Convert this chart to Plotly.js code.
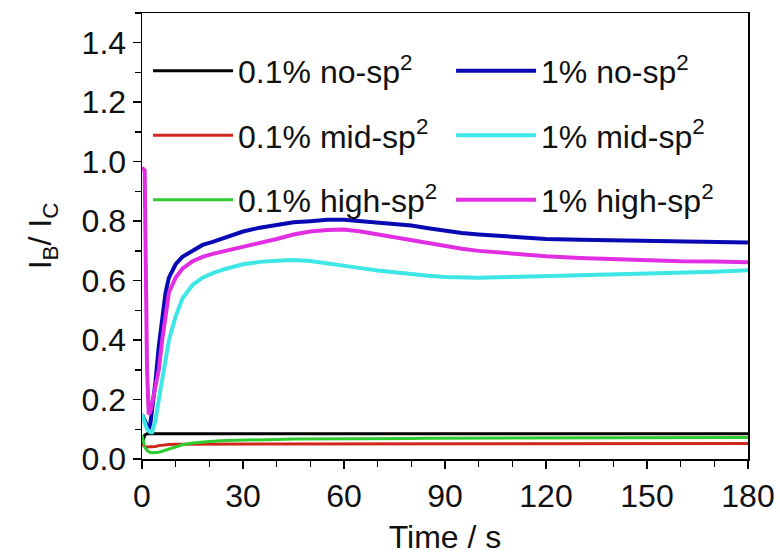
<!DOCTYPE html>
<html>
<head>
<meta charset="utf-8">
<script src="https://cdn.plot.ly/plotly-3.0.1.min.js"></script>
<style>html,body{margin:0;padding:0;background:#fff;}#chart{width:780px;height:560px;}</style>
</head>
<body>
<div id="chart"></div>
<script>
// Time axis (s), shared by all series
var time = [0, 0.8, 1.5, 2, 2.5, 3, 4, 5, 6, 7, 8, 10, 12, 15, 18, 21, 25, 30, 35, 40,
            45, 50, 55, 60, 65, 70, 75, 80, 85, 90, 95, 100, 110, 120, 130, 140, 150, 160, 170, 180];

// I_B / I_C values
var noSp2_01 = [0.05, 0.08, 0.085, 0.085, 0.085, 0.085, 0.085, 0.085, 0.085, 0.085, 0.085, 0.085, 0.085, 0.085, 0.085, 0.085, 0.085, 0.085, 0.085, 0.085,
                0.085, 0.085, 0.085, 0.085, 0.085, 0.085, 0.085, 0.085, 0.085, 0.085, 0.085, 0.085, 0.085, 0.085, 0.085, 0.085, 0.085, 0.085, 0.085, 0.085];
var midSp2_01 = [0.05, 0.042, 0.04, 0.04, 0.04, 0.04, 0.042, 0.045, 0.047, 0.048, 0.049, 0.05, 0.05, 0.051, 0.052, 0.052, 0.052, 0.052, 0.052, 0.052,
                 0.052, 0.052, 0.052, 0.052, 0.052, 0.052, 0.052, 0.052, 0.052, 0.052, 0.052, 0.052, 0.052, 0.052, 0.052, 0.052, 0.052, 0.052, 0.052, 0.052];
var highSp2_01 = [0.08, 0.04, 0.028, 0.024, 0.022, 0.021, 0.021, 0.023, 0.026, 0.03, 0.034, 0.042, 0.048, 0.054, 0.058, 0.06, 0.062, 0.064, 0.065, 0.066,
                  0.067, 0.067, 0.068, 0.068, 0.068, 0.069, 0.069, 0.069, 0.07, 0.07, 0.07, 0.07, 0.07, 0.07, 0.071, 0.071, 0.071, 0.072, 0.072, 0.072];
var noSp2_1 = [0.15, 0.13, 0.11, 0.10, 0.12, 0.16, 0.26, 0.38, 0.48, 0.56, 0.61, 0.655, 0.68, 0.70, 0.72, 0.73, 0.745, 0.765, 0.778, 0.788,
               0.796, 0.80, 0.805, 0.805, 0.80, 0.796, 0.79, 0.785, 0.776, 0.767, 0.76, 0.755, 0.746, 0.74, 0.737, 0.735, 0.732, 0.73, 0.729, 0.728];
var midSp2_1 = [0.15, 0.12, 0.10, 0.095, 0.09, 0.09, 0.13, 0.20, 0.27, 0.34, 0.40, 0.48, 0.54, 0.585, 0.61, 0.625, 0.64, 0.655, 0.663, 0.667,
                0.669, 0.666, 0.657, 0.648, 0.642, 0.634, 0.627, 0.621, 0.616, 0.612, 0.61, 0.61, 0.612, 0.615, 0.618, 0.62, 0.622, 0.626, 0.63, 0.635];
var highSp2_1 = [0.98, 0.97, 0.30, 0.15, 0.16, 0.19, 0.24, 0.30, 0.40, 0.49, 0.56, 0.61, 0.64, 0.665, 0.68, 0.69, 0.70, 0.712, 0.725, 0.74,
                 0.755, 0.765, 0.77, 0.772, 0.765, 0.755, 0.745, 0.735, 0.725, 0.715, 0.707, 0.70, 0.69, 0.682, 0.676, 0.672, 0.668, 0.665, 0.664, 0.662];

var seriesNames = ['0.1% no-sp<sup>2</sup>', '0.1% mid-sp<sup>2</sup>', '0.1% high-sp<sup>2</sup>',
                   '1% no-sp<sup>2</sup>', '1% mid-sp<sup>2</sup>', '1% high-sp<sup>2</sup>'];
var seriesData = [noSp2_01, midSp2_01, highSp2_01, noSp2_1, midSp2_1, highSp2_1];
var seriesColors = ['#000000', '#d0261c', '#2ecc2e', '#0a0ab4', '#3ee6e6', '#e22ee2'];
var seriesWidths = [3, 3, 3, 4, 4, 4];
var legendIds = ['legend', 'legend', 'legend', 'legend2', 'legend2', 'legend2'];

var traces = seriesData.map(function (vals, i) {
  return {
    x: time, y: vals, type: 'scatter', mode: 'lines', name: seriesNames[i],
    line: {color: seriesColors[i], width: seriesWidths[i]},
    legend: legendIds[i], legendgroup: 'g' + i
  };
});

var FONT = 'Liberation Sans, Arial, sans-serif';
var FS = 32;
var axisCommon = {
  showline: true, linecolor: '#000', linewidth: 1.5, mirror: true,
  ticks: 'outside', ticklen: 8, tickwidth: 1.5, tickcolor: '#000',
  showgrid: false, zeroline: false,
  tickfont: {family: FONT, size: FS, color: '#111'}
};

var layout = {
  width: 780, height: 560,
  margin: {l: 142, r: 32, t: 13, b: 101},
  paper_bgcolor: '#fff', plot_bgcolor: '#fff',
  font: {family: FONT, color: '#111'},
  xaxis: Object.assign({}, axisCommon, {
    range: [0, 180], tickvals: [0, 30, 60, 90, 120, 150, 180],
    minor: {tickvals: [10, 20, 40, 50, 70, 80, 100, 110, 130, 140, 160, 170], ticklen: 6, tickwidth: 1.5, tickcolor: '#000', ticks: 'outside'},
    title: {text: 'Time / s', font: {family: FONT, size: FS, color: '#111'}, standoff: 12}
  }),
  yaxis: Object.assign({}, axisCommon, {
    range: [0, 1.5], tickvals: [0, 0.2, 0.4, 0.6, 0.8, 1.0, 1.2, 1.4], tickformat: '.1f',
    minor: {tickvals: [0.1, 0.3, 0.5, 0.7, 0.9, 1.1, 1.3, 1.5], ticklen: 6, tickwidth: 1.5, tickcolor: '#000', ticks: 'outside'},
    title: {text: 'I<sub>B</sub>/ I<sub>C</sub>', font: {family: FONT, size: FS, color: '#111'}, standoff: 20}
  }),
  legend: {
    x: 0.01, y: 0.932, xanchor: 'left', yanchor: 'top', bgcolor: 'rgba(0,0,0,0)',
    font: {family: FONT, size: FS, color: '#111'}, tracegroupgap: 20, itemwidth: 80
  },
  legend2: {
    x: 0.51, y: 0.932, xanchor: 'left', yanchor: 'top', bgcolor: 'rgba(0,0,0,0)',
    font: {family: FONT, size: FS, color: '#111'}, tracegroupgap: 20, itemwidth: 80
  },
  showlegend: true
};

Plotly.newPlot('chart', traces, layout, {displayModeBar: false, staticPlot: true});
</script>
</body>
</html>
